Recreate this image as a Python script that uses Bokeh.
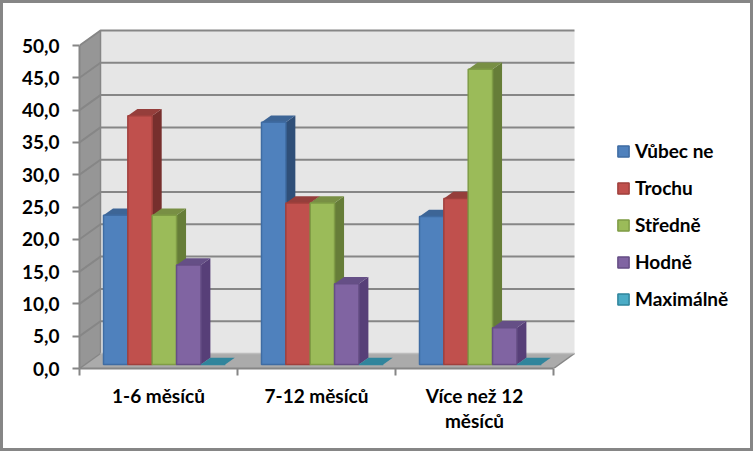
from bokeh.plotting import figure
from bokeh.models import Range1d, FixedTicker, Legend, LegendItem
from bokeh.embed import file_html
from bokeh.resources import INLINE

categories = ["1-6 měsíců", "7-12 měsíců", "Více než 12\nměsíců"]
series_names = ["Vůbec ne", "Trochu", "Středně", "Hodně", "Maximálně"]
vubec_ne = [23.1, 37.5, 22.9]
trochu = [38.5, 25.0, 25.7]
stredne = [23.1, 25.0, 45.7]
hodne = [15.4, 12.5, 5.7]
maximalne = [0.0, 0.0, 0.0]
y_ticks = [0, 5, 10, 15, 20, 25, 30, 35, 40, 45, 50]

front = ["#4F81BD", "#C0504D", "#9BBB59", "#8064A2", "#4BACC6"]
edge = ["#3F6CA3", "#A0403D", "#7F9C45", "#654E85", "#31859C"]
side = ["#2F4F78", "#772F2D", "#667D38", "#573F78", "#2A7085"]
top = ["#3D6596", "#953E3B", "#788F44", "#654F86", "#31859C"]

PX_X = 158.0   # pixels per category
PX_Y = 6.46    # pixels per value unit
DX = 21 / PX_X
DY = 15 / PX_Y
BAR_W = 24.35 / PX_X
BAR_DX = 9.5 / PX_X
BAR_DY = 6.8 / PX_Y
OFF_DX = 6 / PX_X
OFF_DY = 4 / PX_Y
GROUP_OFF = 18 / PX_X

GRID = "#868686"
FONT = "Lato"
FS = "19px"

p = figure(width=753, height=451, output_backend="svg", toolbar_location=None,
           x_range=Range1d(0, 674 / PX_X), y_range=Range1d(0, 368 / PX_Y),
           min_border_left=79, min_border_right=0, min_border_top=0, min_border_bottom=83)
p.grid.visible = False
p.outline_line_color = None
p.border_fill_color = None
p.background_fill_color = None
p.styles = {"box-shadow": "inset 0 0 0 3px #868686", "background": "#FFFFFF"}

n = len(categories)
top_v = y_ticks[-1]

# walls and floor
p.patch([0, DX, DX, 0], [0, DY, top_v + DY, top_v], fill_color="#969696", line_color=None)
p.patch([DX, n + DX, n + DX, DX], [DY, DY, top_v + DY, top_v + DY], fill_color="#E6E6E6", line_color=None)
p.patch([0, n, n + DX, DX], [0, 0, DY, DY], fill_color="#ABABAB", line_color=None)

# gridlines
gx, gy = [], []
for t in y_ticks[1:]:
    gx.append([0, DX, n + DX])
    gy.append([t, t + DY, t + DY])
p.multi_line(gx, gy, line_color=GRID, line_width=2)
p.multi_line([[0, DX, DX]], [[0, DY, top_v + DY]], line_color=GRID, line_width=1.5)
p.line([n, n + DX], [0, DY], line_color=GRID, line_width=1.5)
p.line([DX, n + DX], [DY, DY], line_color="#BDBDBD", line_width=1.5)

# bars
all_series = [vubec_ne, trochu, stredne, hodne, maximalne]
items = []
for s, vals in enumerate(all_series):
    lefts = [i + GROUP_OFF + OFF_DX + s * BAR_W for i in range(n)]
    rights = [l + BAR_W for l in lefts]
    base = OFF_DY
    tops = [base + v for v in vals]
    p.patches([[r, r + BAR_DX, r + BAR_DX, r] for r in rights],
              [[base, base + BAR_DY, t + BAR_DY, t] for t in tops],
              fill_color=side[s], line_color=None)
    p.patches([[l, r, r + BAR_DX, l + BAR_DX] for l, r in zip(lefts, rights)],
              [[t, t, t + BAR_DY, t + BAR_DY] for t in tops],
              fill_color=top[s], line_color=None)
    r = p.quad(left=lefts, right=rights, bottom=[base] * n, top=tops,
               fill_color=front[s], line_color=edge[s], line_width=1.5)
    items.append(LegendItem(label=series_names[s], renderers=[r]))

legend = Legend(items=items, location=(537, 58), orientation="vertical",
                glyph_width=14, glyph_height=14, label_height=20, label_width=100,
                spacing=14, padding=0, margin=0, label_standoff=5,
                border_line_color=None, background_fill_color=None,
                label_text_font=FONT, label_text_font_size=FS,
                label_text_font_style="bold", label_text_color="#000000")
p.add_layout(legend, "center")

# y axis
ya = p.yaxis[0]
ya.ticker = FixedTicker(ticks=y_ticks)
ya.major_label_overrides = {t: f"{t},0" for t in y_ticks}
ya.bounds = (0, top_v)
ya.axis_line_color = GRID
ya.axis_line_width = 2
ya.major_tick_line_color = GRID
ya.major_tick_line_width = 2
ya.major_tick_out = 7
ya.major_tick_in = 0
ya.minor_tick_line_color = None
ya.major_label_standoff = 13
ya.major_label_text_font = FONT
ya.major_label_text_font_size = FS
ya.major_label_text_font_style = "bold"
ya.major_label_text_color = "#000000"

# x axis
xa = p.xaxis[0]
mids = [i + 0.5 for i in range(n)]
xa.ticker = FixedTicker(ticks=mids, minor_ticks=list(range(n + 1)))
xa.major_label_overrides = dict(zip(mids, categories))
xa.bounds = (0, n)
xa.axis_line_color = GRID
xa.axis_line_width = 2
xa.major_tick_line_color = None
xa.major_tick_out = 7
xa.major_tick_in = 0
xa.minor_tick_line_color = GRID
xa.minor_tick_line_width = 2
xa.minor_tick_out = 7
xa.minor_tick_in = 0
xa.major_label_standoff = 8
xa.major_label_text_font = FONT
xa.major_label_text_font_size = FS
xa.major_label_text_font_style = "bold"
xa.major_label_text_color = "#000000"
xa.major_label_text_line_height = 1.1

open("out.html", "w").write(file_html(p, INLINE))
